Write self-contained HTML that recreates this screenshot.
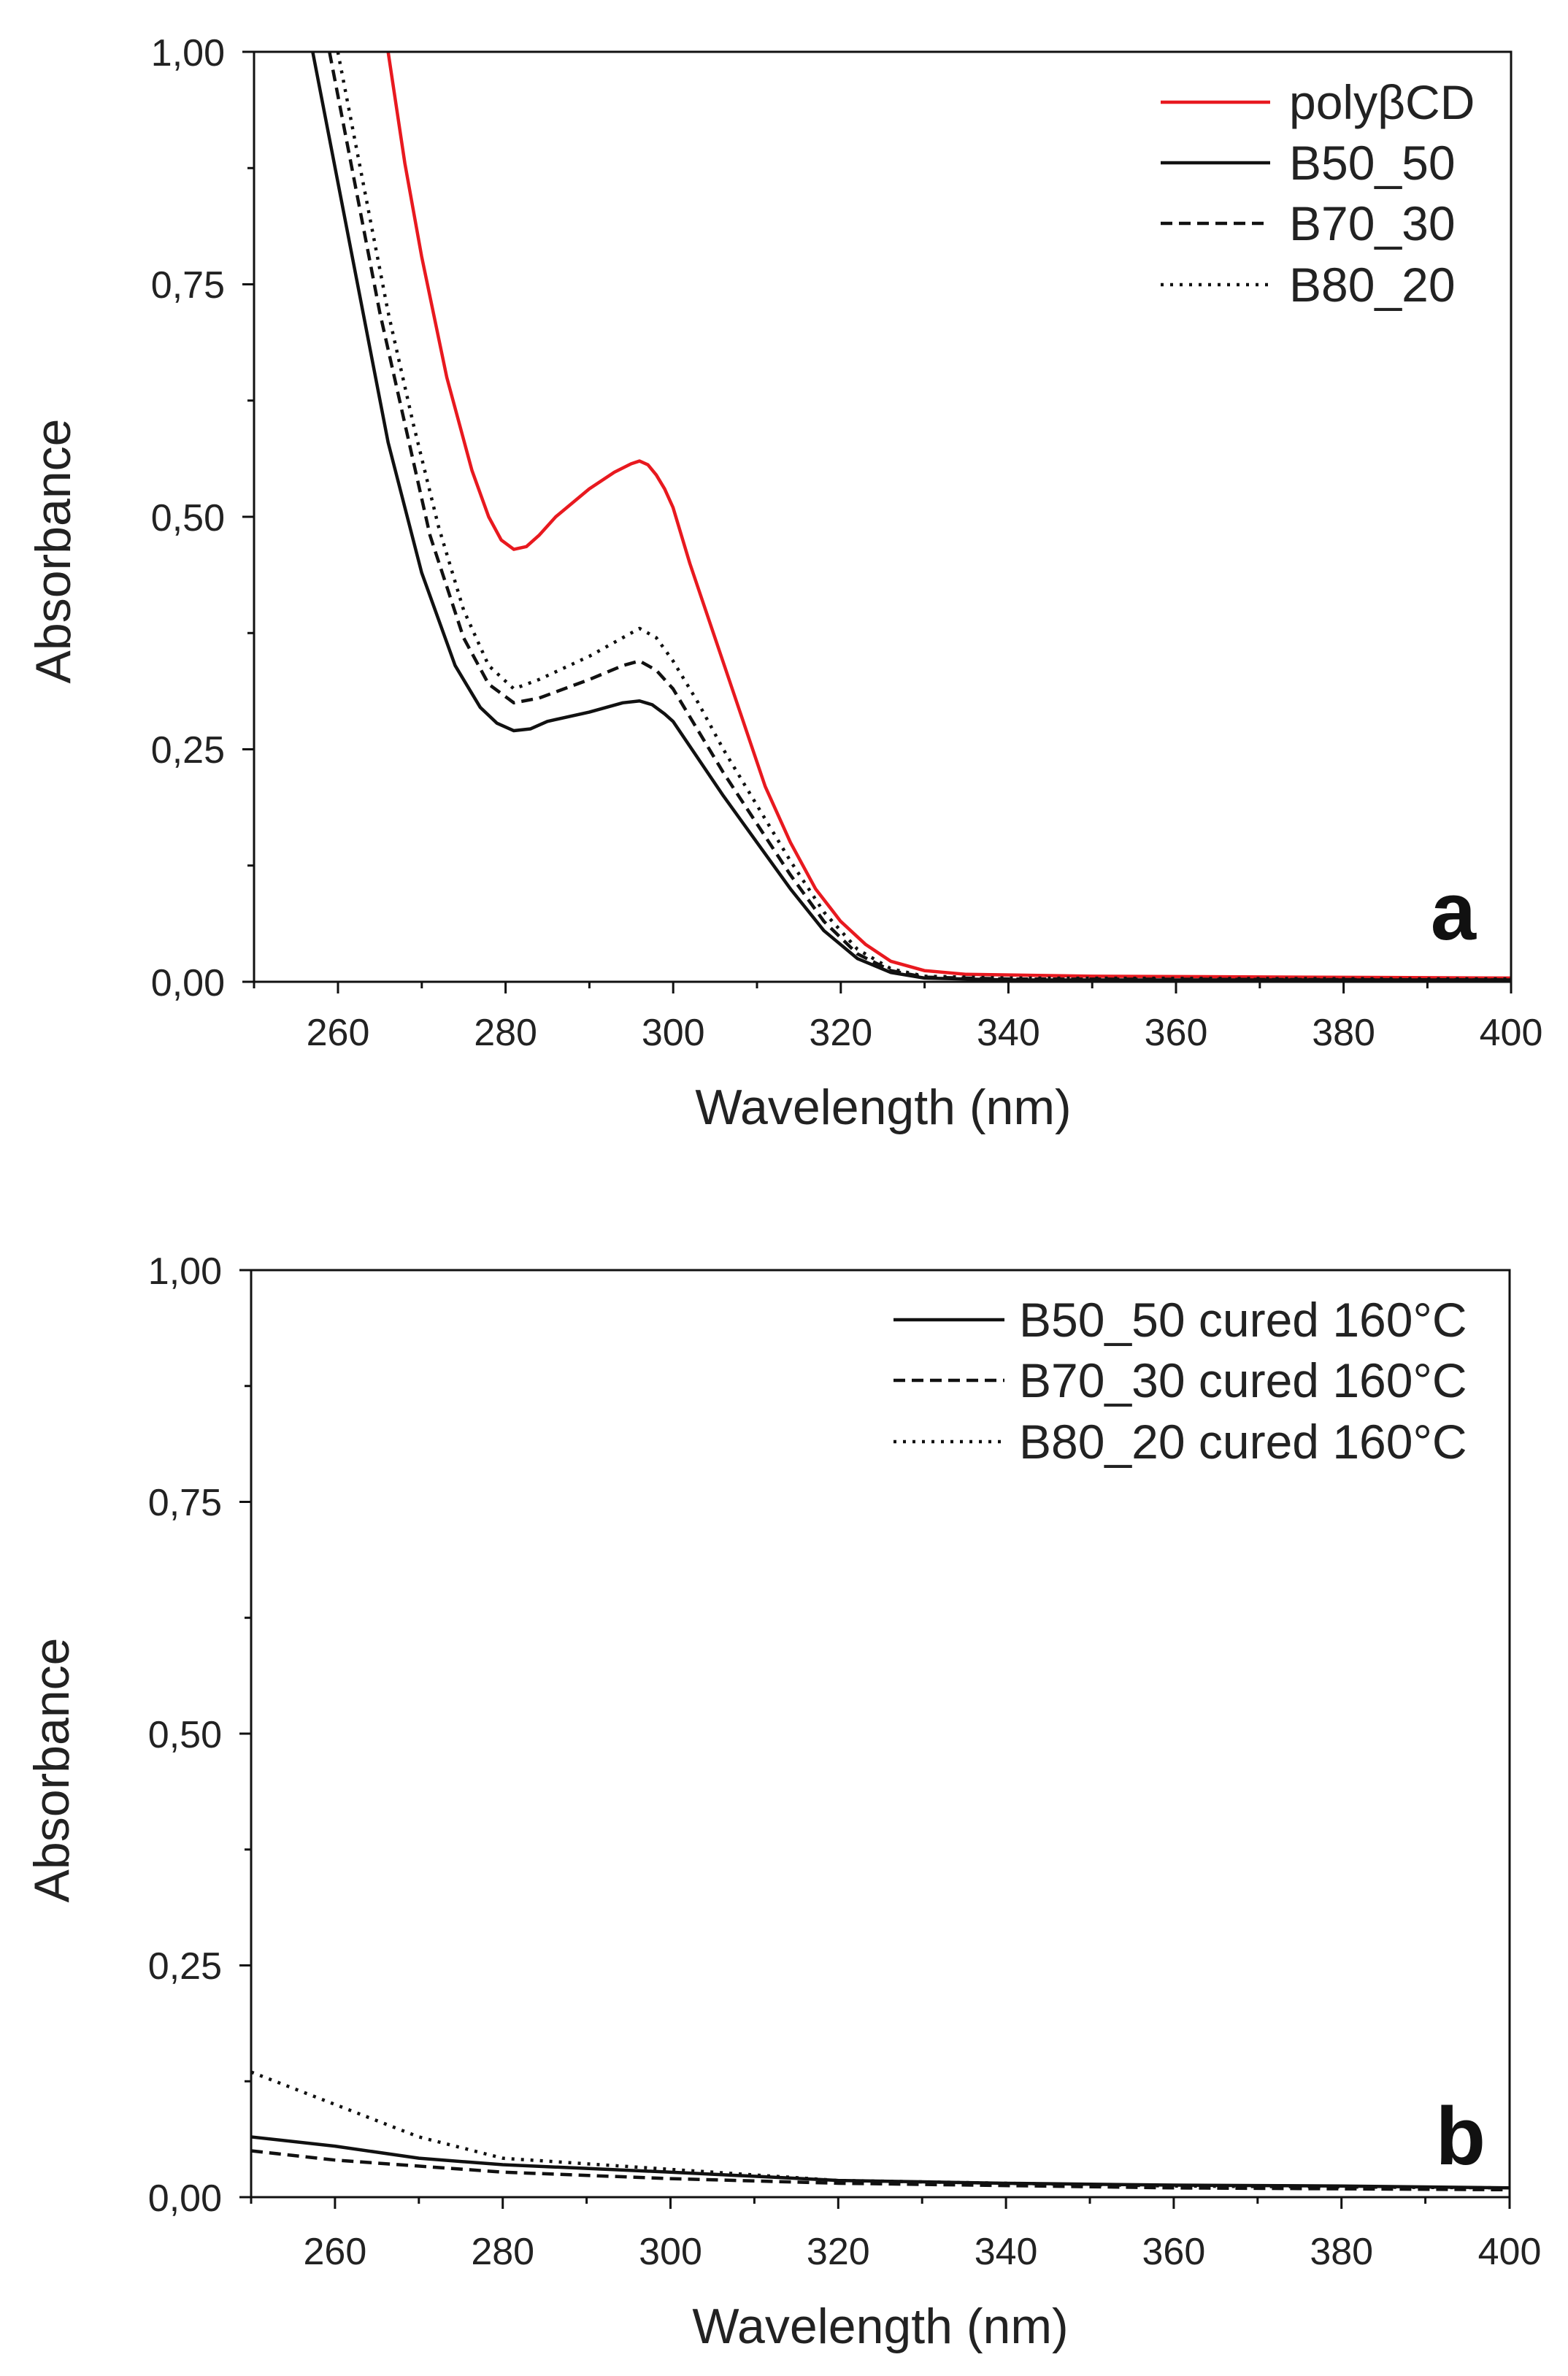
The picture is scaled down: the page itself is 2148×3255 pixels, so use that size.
<!DOCTYPE html>
<html><head><meta charset="utf-8"><style>
html,body{margin:0;padding:0;background:#fff}
svg{display:block}
text{font-family:"Liberation Sans",Arial,sans-serif;fill:#222}
.tl{font-size:52px}
.ti{font-size:68px}
.lg{font-size:66px}
.c{fill:none;stroke-width:4.5;vector-effect:non-scaling-stroke;stroke-linejoin:round}
</style></head><body>
<svg width="2148" height="3255" viewBox="0 0 2148 3255" xmlns="http://www.w3.org/2000/svg">
<!-- Panel a -->
<g>
<g transform="translate(348,1345) scale(11.48,-1274) translate(-250,0)">
<polyline class="c" stroke="#e8191f" points="266,1 268,0.88 270,0.78 273,0.65 276,0.55 278,0.5 279.5,0.475 281,0.465 282.5,0.468 284,0.48 286,0.5 290,0.53 293,0.548 295,0.557 296,0.56 297,0.556 298,0.545 299,0.53 300,0.51 302,0.45 305,0.37 308,0.29 311,0.21 314,0.15 317,0.1 320,0.065 323,0.04 326,0.022 330,0.012 335,0.008 350,0.006 400,0.004"/>
<polyline class="c" stroke="#111" points="257,1 260,0.86 263,0.72 266,0.58 270,0.44 274,0.34 277,0.295 279,0.278 281,0.27 283,0.272 285,0.28 290,0.29 294,0.3 296,0.302 297.5,0.298 299,0.288 300,0.28 303,0.24 306,0.2 310,0.15 314,0.1 318,0.055 322,0.025 326,0.01 330,0.004 340,0.002 400,0.002"/>
<polyline class="c" stroke="#111" stroke-dasharray="16,9" points="259,1 262,0.86 265,0.72 268,0.6 271,0.48 275,0.37 278,0.32 281,0.3 284,0.305 290,0.325 294,0.34 296,0.345 298,0.335 300,0.315 303,0.27 306,0.225 310,0.17 314,0.115 318,0.065 322,0.03 326,0.012 330,0.005 340,0.003 400,0.002"/>
<polyline class="c" stroke="#111" stroke-dasharray="4,9" points="260,1 263,0.86 266,0.72 269,0.6 272,0.49 275,0.4 278,0.34 281,0.315 284,0.325 290,0.35 294,0.37 296,0.38 298,0.37 300,0.345 303,0.3 306,0.25 310,0.19 314,0.13 318,0.075 322,0.035 326,0.014 330,0.006 340,0.004 400,0.003"/>
</g>
<rect x="348" y="71" width="1722" height="1274" fill="none" stroke="#111" stroke-width="3"/>
<g stroke="#111" stroke-width="3">
<line x1="348" y1="1345" x2="332" y2="1345"/><line x1="348" y1="1026.5" x2="332" y2="1026.5"/><line x1="348" y1="708" x2="332" y2="708"/><line x1="348" y1="389.5" x2="332" y2="389.5"/><line x1="348" y1="71" x2="332" y2="71"/>
<line x1="348" y1="1185.75" x2="339" y2="1185.75"/><line x1="348" y1="867.25" x2="339" y2="867.25"/><line x1="348" y1="548.75" x2="339" y2="548.75"/><line x1="348" y1="230.25" x2="339" y2="230.25"/>
<line x1="463" y1="1345" x2="463" y2="1361"/><line x1="692.6" y1="1345" x2="692.6" y2="1361"/><line x1="922.2" y1="1345" x2="922.2" y2="1361"/><line x1="1151.8" y1="1345" x2="1151.8" y2="1361"/><line x1="1381.4" y1="1345" x2="1381.4" y2="1361"/><line x1="1611" y1="1345" x2="1611" y2="1361"/><line x1="1840.6" y1="1345" x2="1840.6" y2="1361"/><line x1="2070" y1="1345" x2="2070" y2="1361"/>
<line x1="348" y1="1345" x2="348" y2="1354"/><line x1="577.8" y1="1345" x2="577.8" y2="1354"/><line x1="807.4" y1="1345" x2="807.4" y2="1354"/><line x1="1037" y1="1345" x2="1037" y2="1354"/><line x1="1266.6" y1="1345" x2="1266.6" y2="1354"/><line x1="1496.2" y1="1345" x2="1496.2" y2="1354"/><line x1="1725.8" y1="1345" x2="1725.8" y2="1354"/><line x1="1955.4" y1="1345" x2="1955.4" y2="1354"/>
</g>
<g class="tl" text-anchor="end"><text x="308" y="1364">0,00</text><text x="308" y="1045">0,25</text><text x="308" y="727">0,50</text><text x="308" y="408">0,75</text><text x="308" y="90">1,00</text></g>
<g class="tl" text-anchor="middle"><text x="463" y="1432">260</text><text x="692.6" y="1432">280</text><text x="922.2" y="1432">300</text><text x="1151.8" y="1432">320</text><text x="1381.4" y="1432">340</text><text x="1611" y="1432">360</text><text x="1840.6" y="1432">380</text><text x="2070" y="1432">400</text></g>
<text class="ti" x="1210" y="1540" text-anchor="middle">Wavelength (nm)</text>
<text class="ti" transform="translate(96,755) rotate(-90)" text-anchor="middle">Absorbance</text>
<text x="2022" y="1287" text-anchor="end" style="font-size:112px;font-weight:bold;fill:#111">a</text>
<g stroke-width="4.5" fill="none">
<line x1="1590" y1="140" x2="1740" y2="140" stroke="#e8191f"/>
<line x1="1590" y1="223" x2="1740" y2="223" stroke="#111"/>
<line x1="1590" y1="306" x2="1740" y2="306" stroke="#111" stroke-dasharray="16,9"/>
<line x1="1590" y1="390" x2="1740" y2="390" stroke="#111" stroke-dasharray="4,9"/>
</g>
<g class="lg"><text x="1766" y="163">polyβCD</text><text x="1766" y="246">B50_50</text><text x="1766" y="329">B70_30</text><text x="1766" y="413">B80_20</text></g>
</g>
<!-- Panel b -->
<g>
<g transform="translate(344,3010) scale(11.49,-1270) translate(-250,0)">
<polyline class="c" stroke="#111" points="250,0.065 260,0.055 270,0.042 280,0.035 300,0.027 320,0.018 340,0.015 360,0.013 380,0.012 400,0.01"/>
<polyline class="c" stroke="#111" stroke-dasharray="16,9" points="250,0.05 260,0.04 280,0.027 300,0.02 320,0.015 360,0.01 400,0.008"/>
<polyline class="c" stroke="#111" stroke-dasharray="4,9" points="250,0.135 260,0.1 270,0.065 280,0.042 300,0.03 320,0.018 360,0.012 400,0.01"/>
</g>
<rect x="344" y="1740" width="1724" height="1270" fill="none" stroke="#111" stroke-width="3"/>
<g stroke="#111" stroke-width="3">
<line x1="344" y1="3010" x2="328" y2="3010"/><line x1="344" y1="2692.5" x2="328" y2="2692.5"/><line x1="344" y1="2375" x2="328" y2="2375"/><line x1="344" y1="2057.5" x2="328" y2="2057.5"/><line x1="344" y1="1740" x2="328" y2="1740"/>
<line x1="344" y1="2851.25" x2="335" y2="2851.25"/><line x1="344" y1="2533.75" x2="335" y2="2533.75"/><line x1="344" y1="2216.25" x2="335" y2="2216.25"/><line x1="344" y1="1898.75" x2="335" y2="1898.75"/>
<line x1="458.9" y1="3010" x2="458.9" y2="3026"/><line x1="688.7" y1="3010" x2="688.7" y2="3026"/><line x1="918.5" y1="3010" x2="918.5" y2="3026"/><line x1="1148.3" y1="3010" x2="1148.3" y2="3026"/><line x1="1378.1" y1="3010" x2="1378.1" y2="3026"/><line x1="1607.9" y1="3010" x2="1607.9" y2="3026"/><line x1="1837.7" y1="3010" x2="1837.7" y2="3026"/><line x1="2068" y1="3010" x2="2068" y2="3026"/>
<line x1="344" y1="3010" x2="344" y2="3019"/><line x1="573.8" y1="3010" x2="573.8" y2="3019"/><line x1="803.6" y1="3010" x2="803.6" y2="3019"/><line x1="1033.4" y1="3010" x2="1033.4" y2="3019"/><line x1="1263.2" y1="3010" x2="1263.2" y2="3019"/><line x1="1493" y1="3010" x2="1493" y2="3019"/><line x1="1722.8" y1="3010" x2="1722.8" y2="3019"/><line x1="1952.6" y1="3010" x2="1952.6" y2="3019"/>
</g>
<g class="tl" text-anchor="end"><text x="304" y="3029">0,00</text><text x="304" y="2711">0,25</text><text x="304" y="2394">0,50</text><text x="304" y="2076">0,75</text><text x="304" y="1759">1,00</text></g>
<g class="tl" text-anchor="middle"><text x="458.9" y="3102">260</text><text x="688.7" y="3102">280</text><text x="918.5" y="3102">300</text><text x="1148.3" y="3102">320</text><text x="1378.1" y="3102">340</text><text x="1607.9" y="3102">360</text><text x="1837.7" y="3102">380</text><text x="2068" y="3102">400</text></g>
<text class="ti" x="1206" y="3210" text-anchor="middle">Wavelength (nm)</text>
<text class="ti" transform="translate(94,2425) rotate(-90)" text-anchor="middle">Absorbance</text>
<text x="2035" y="2965" text-anchor="end" style="font-size:112px;font-weight:bold;fill:#111">b</text>
<g stroke-width="4.5" fill="none" stroke="#111">
<line x1="1224" y1="1808" x2="1376" y2="1808"/>
<line x1="1224" y1="1891" x2="1376" y2="1891" stroke-dasharray="16,9"/>
<line x1="1224" y1="1975" x2="1376" y2="1975" stroke-dasharray="4,9"/>
</g>
<g class="lg"><text x="1396" y="1831">B50_50 cured 160°C</text><text x="1396" y="1914">B70_30 cured 160°C</text><text x="1396" y="1998">B80_20 cured 160°C</text></g>
</g>
</svg>
</body></html>
